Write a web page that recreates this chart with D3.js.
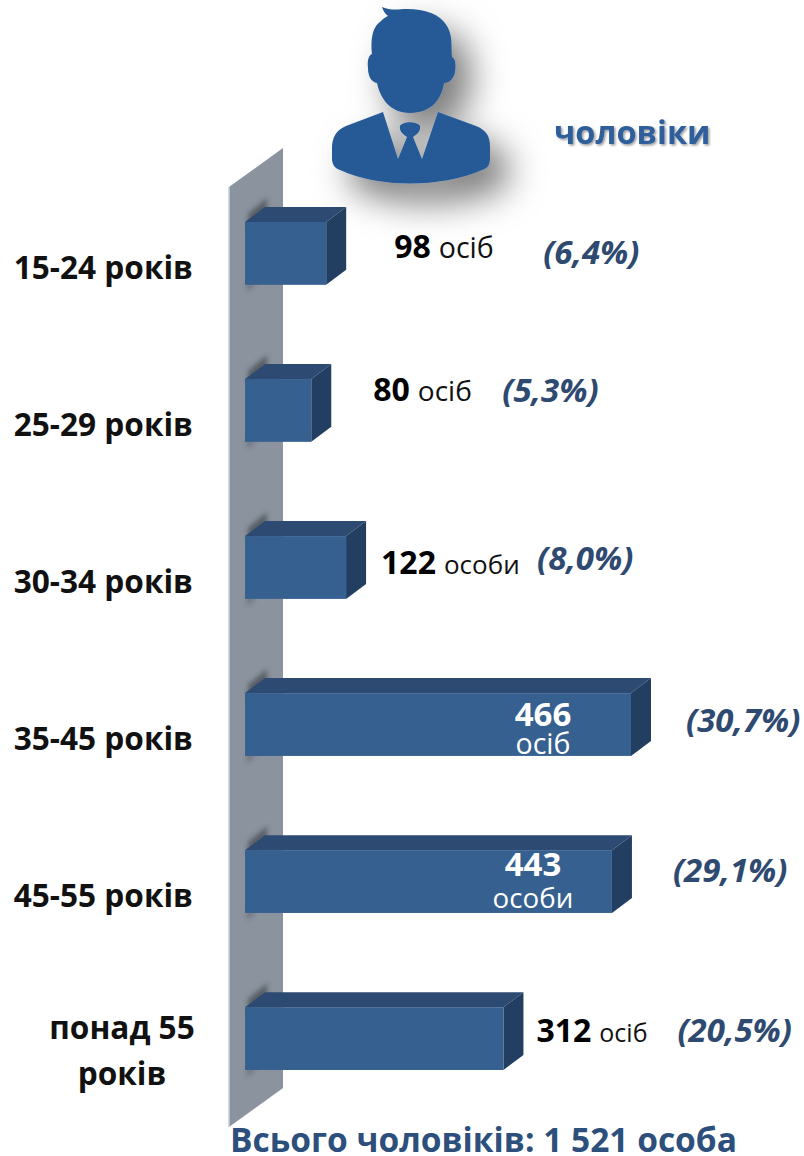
<!DOCTYPE html>
<html>
<head>
<meta charset="utf-8">
<script src="https://cdn.jsdelivr.net/npm/d3@7"></script>
<style>
  html, body { margin: 0; padding: 0; background: #fff; }
  svg { display: block; font-family: "Open Sans", "Noto Sans", sans-serif; }
</style>
</head>
<body>
<svg id="chart" width="804" height="1156"></svg>
<script>
// values
const ageGroups = ["15-24 років", "25-29 років", "30-34 років", "35-45 років", "45-55 років", "понад 55 років"];
const counts = [98, 80, 122, 466, 443, 312];
const units = ["осіб", "осіб", "особи", "осіб", "особи", "осіб"];
const shares = ["(6,4%)", "(5,3%)", "(8,0%)", "(30,7%)", "(29,1%)", "(20,5%)"];
const seriesName = "чоловіки";
const totalLabel = "Всього чоловіків: 1 521 особа";

// label placement, relative to the end and top of each bar
const countDx = [48, 42, 15, 0, 0, 13];
const countDy = [36, 22, 38, 33, 26, 35];
const unitSize = [28.5, 28, 26, 28.5, 27.7, 25];
const shareDx = [217, 191, 191, 55, 61, 174];
const shareDy = [42, 23, 34, 39, 32, 35];

const svg = d3.select("#chart");
const defs = svg.append("defs");

const xScale = d3.scaleLinear().domain([0, 466]).range([245, 631]);
const yScale = d3.scaleBand().domain(ageGroups).range([222, 1070]).paddingInner(0.6);
const depthX = 20, depthY = -15;
const barH = yScale.bandwidth();

const blur = defs.append("filter").attr("id", "soft")
  .attr("x", "-50%").attr("y", "-50%").attr("width", "200%").attr("height", "200%");
blur.append("feGaussianBlur").attr("stdDeviation", 2.5);

const personShadow = defs.append("filter").attr("id", "personShadow")
  .attr("x", "-40%").attr("y", "-40%").attr("width", "190%").attr("height", "190%");
personShadow.append("feDropShadow")
  .attr("dx", 18).attr("dy", 20).attr("stdDeviation", 17)
  .attr("flood-color", "#000").attr("flood-opacity", 0.5);

const textShadow = defs.append("filter").attr("id", "textShadow");
textShadow.append("feDropShadow")
  .attr("dx", 1.5).attr("dy", 1.5).attr("stdDeviation", 1.2)
  .attr("flood-color", "#000").attr("flood-opacity", 0.4);

// wall behind the bars
svg.append("path")
  .attr("d", "M229,187 L283,148 L283,1088 L229,1127 Z")
  .attr("fill", "#8b939e");
svg.append("path")
  .attr("d", "M229,187 L229,1127")
  .attr("stroke", "#c3d2e6").attr("stroke-width", 1.5);

// person icon
svg.append("path")
  .attr("filter", "url(#personShadow)")
  .attr("fill", "#285a96")
  .attr("fill-rule", "evenodd")
  .attr("d", `M382,7 C392,11 398,9 407,9 C425,9 440,14 447,26 C453,36 451,46 452,57
    C456,59 456,66 455,72 C454,78 450,83 444,83 C442,98 432,113 410,113
    C390,113 380,98 377,83 C371,82 368,76 368,68 C367,60 369,55 372,54
    C371,42 371,28 381,21 C384,18 386,17 388,16 C385,14 383,10 382,7 Z
    M383,112 L346,126 C336,130 332,138 332,148 L332,160 C333,166 335,168 340,170
    C380,188 440,188 482,170 C488,168 490,165 490,158 L490,146 C490,136 486,130 476,126 L438,112
    L422,159 L413,137 C418,134 421,130 420,126 C417,121 403,121 400,126 C399,130 402,134 407,137
    L398,159 Z`);

svg.append("text")
  .attr("x", 554).attr("y", 144)
  .attr("font-size", 32.5).attr("font-weight", 700)
  .attr("fill", "#2f5f9a").attr("filter", "url(#textShadow)")
  .text(seriesName);

const bars = svg.selectAll("g.bar")
  .data(ageGroups).join("g").attr("class", "bar");

// shadow the bar drops on the wall, a wedge above it and a sliver below
bars.append("path")
  .attr("fill", "#34383e").attr("fill-opacity", 0.6)
  .attr("filter", "url(#soft)")
  .attr("d", d => {
    const y = yScale(d);
    return `M248,${y - 8} L267,${y - 24} L267,${y - 10} L248,${y + 4} Z`;
  });
bars.append("path")
  .attr("fill", "#34383e").attr("fill-opacity", 0.4)
  .attr("filter", "url(#soft)")
  .attr("d", d => {
    const y = yScale(d) + barH;
    return `M247,${y - 2} L256,${y - 2} L247,${y + 7} Z`;
  });

bars.append("path")
  .attr("fill", "#2c4a72")
  .attr("d", (d, i) => {
    const x0 = xScale(0), x1 = xScale(counts[i]), y = yScale(d);
    return `M${x0},${y} L${x0 + depthX},${y + depthY} L${x1 + depthX},${y + depthY} L${x1},${y} Z`;
  });

bars.append("path")
  .attr("fill", "#223f62")
  .attr("d", (d, i) => {
    const x1 = xScale(counts[i]), y = yScale(d);
    return `M${x1},${y} L${x1 + depthX},${y + depthY} L${x1 + depthX},${y + depthY + barH} L${x1},${y + barH} Z`;
  });

bars.append("rect")
  .attr("x", xScale(0))
  .attr("y", d => yScale(d))
  .attr("width", (d, i) => xScale(counts[i]) - xScale(0))
  .attr("height", barH)
  .attr("fill", "#36608f");

// age labels, the last one wraps over two lines
const ageLabel = svg.selectAll("text.age")
  .data(ageGroups).join("text").attr("class", "age")
  .attr("font-size", 31.6).attr("font-weight", 700).attr("fill", "#111");

ageLabel.filter((d, i) => i < 5)
  .attr("x", 193).attr("text-anchor", "end")
  .attr("y", d => yScale(d) + 57)
  .text(d => d);

const wrapped = ageLabel.filter((d, i) => i === 5).attr("text-anchor", "middle");
wrapped.append("tspan").attr("x", 122).attr("y", d => yScale(d) + 32).text("понад 55");
wrapped.append("tspan").attr("x", 122).attr("y", d => yScale(d) + 78).text("років");

// counts: outside the short bars, stacked inside the two long ones
const isInside = i => counts[i] > 400;

const countText = svg.selectAll("text.count")
  .data(ageGroups).join("text").attr("class", "count");

countText.filter((d, i) => !isInside(i))
  .each(function (d) {
    const i = ageGroups.indexOf(d);
    const t = d3.select(this)
      .attr("x", xScale(counts[i]) + depthX + countDx[i])
      .attr("y", yScale(d) + countDy[i]);
    t.append("tspan").attr("font-size", 32).attr("font-weight", 700).attr("fill", "#000").text(counts[i]);
    t.append("tspan").attr("font-size", unitSize[i]).attr("fill", "#111").attr("dx", 8).text(units[i]);
  });

countText.filter((d, i) => isInside(i))
  .each(function (d) {
    const i = ageGroups.indexOf(d);
    const cx = xScale(counts[i]) - (i === 3 ? 88 : 79);
    const t = d3.select(this).attr("text-anchor", "middle").attr("fill", "#fff");
    t.append("tspan").attr("x", cx).attr("y", yScale(d) + countDy[i])
      .attr("font-size", 33).attr("font-weight", 700).text(counts[i]);
    t.append("tspan").attr("x", cx).attr("y", yScale(d) + (i === 3 ? 61 : 58))
      .attr("font-size", unitSize[i]).text(units[i]);
  });

svg.selectAll("text.share")
  .data(ageGroups).join("text").attr("class", "share")
  .attr("x", (d, i) => xScale(counts[i]) + shareDx[i])
  .attr("y", (d, i) => yScale(d) + shareDy[i])
  .attr("font-size", 33).attr("font-weight", 700).attr("font-style", "italic")
  .attr("fill", "#2f4a70")
  .text((d, i) => shares[i]);

svg.append("text")
  .attr("x", 230).attr("y", 1152)
  .attr("font-size", 33.5).attr("font-weight", 700)
  .attr("fill", "#2d4f7c")
  .text(totalLabel);
</script>
</body>
</html>
